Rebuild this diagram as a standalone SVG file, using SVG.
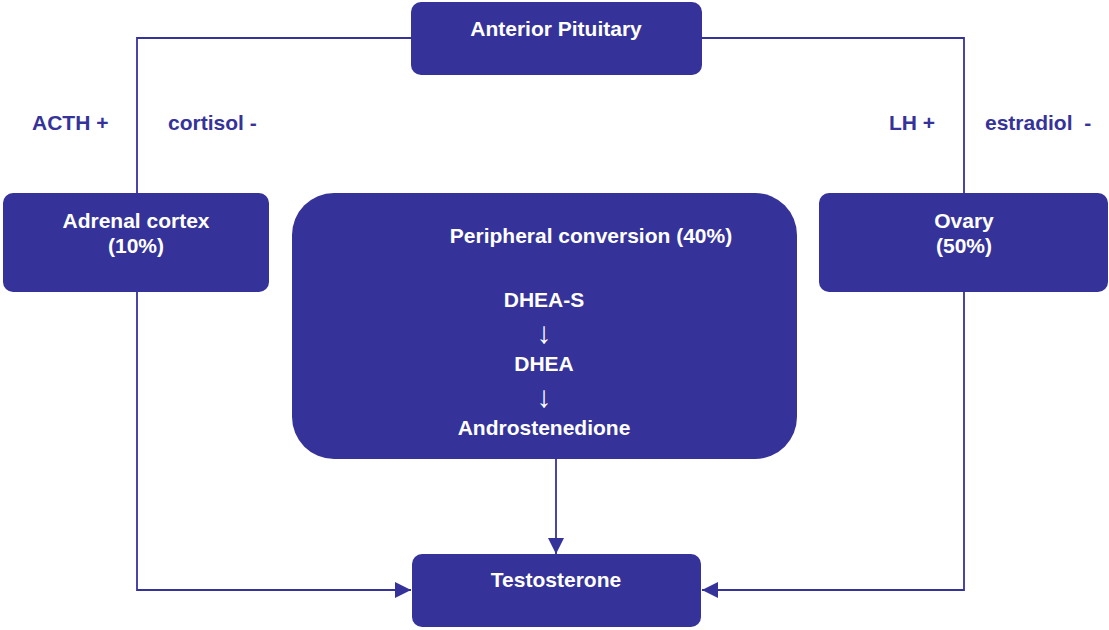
<svg xmlns="http://www.w3.org/2000/svg" width="1109" height="630" viewBox="0 0 1109 630">
<style>
.box{fill:#353399;}
.t{font-family:"Liberation Sans",Arial,sans-serif;font-weight:bold;font-size:21px;fill:#ffffff;text-anchor:middle;}
.a{font-family:"Liberation Sans",Arial,sans-serif;font-weight:normal;font-size:30px;fill:#ffffff;text-anchor:middle;}
.lbl{font-family:"Liberation Sans",Arial,sans-serif;font-weight:bold;font-size:21px;fill:#353399;}
.ln{fill:none;stroke:#353399;stroke-width:1.8;}
</style>
<defs>
<marker id="ah" markerWidth="16" markerHeight="16" viewBox="0 0 16 16" refX="16" refY="8" orient="auto" markerUnits="userSpaceOnUse">
<path d="M0,0 L16,8 L0,16 Z" fill="#353399"/>
</marker>
</defs>
<rect width="1109" height="630" fill="#ffffff"/>
<g id="connectors">
<polyline class="ln" points="137,193 137,38 411,38"/>
<polyline class="ln" points="964,193 964,38 702,38"/>
<polyline class="ln" points="137,292 137,590 411,590" marker-end="url(#ah)"/>
<polyline class="ln" points="964,292 964,590 702,590" marker-end="url(#ah)"/>
<line class="ln" x1="556" y1="459" x2="556" y2="554" marker-end="url(#ah)"/>
</g>
<g id="labels">
<text class="lbl" x="32" y="130">ACTH +</text>
<text class="lbl" x="168" y="130">cortisol -</text>
<text class="lbl" x="889" y="130">LH +</text>
<text class="lbl" x="985" y="130" xml:space="preserve">estradiol  -</text>
</g>
<g id="anterior-pituitary">
<rect class="box" x="411" y="2" width="291" height="73" rx="10"/>
<text class="t" x="556" y="36">Anterior Pituitary</text>
</g>
<g id="adrenal-cortex">
<rect class="box" x="3" y="193" width="266" height="99" rx="10"/>
<text class="t" x="136" y="228">Adrenal cortex</text>
<text class="t" x="136" y="253">(10%)</text>
</g>
<g id="ovary">
<rect class="box" x="819" y="193" width="289" height="99" rx="10"/>
<text class="t" x="964" y="228">Ovary</text>
<text class="t" x="964" y="253">(50%)</text>
</g>
<g id="peripheral-conversion">
<rect class="box" x="292" y="193" width="505" height="266" rx="42"/>
<text class="t" x="591" y="243">Peripheral conversion (40%)</text>
<text class="t" x="544" y="307">DHEA-S</text>
<text class="a" x="544" y="343">↓</text>
<text class="t" x="544" y="371">DHEA</text>
<text class="a" x="544" y="407">↓</text>
<text class="t" x="544" y="435">Androstenedione</text>
</g>
<g id="testosterone">
<rect class="box" x="412" y="554" width="289" height="73" rx="10"/>
<text class="t" x="556" y="587">Testosterone</text>
</g>
</svg>
